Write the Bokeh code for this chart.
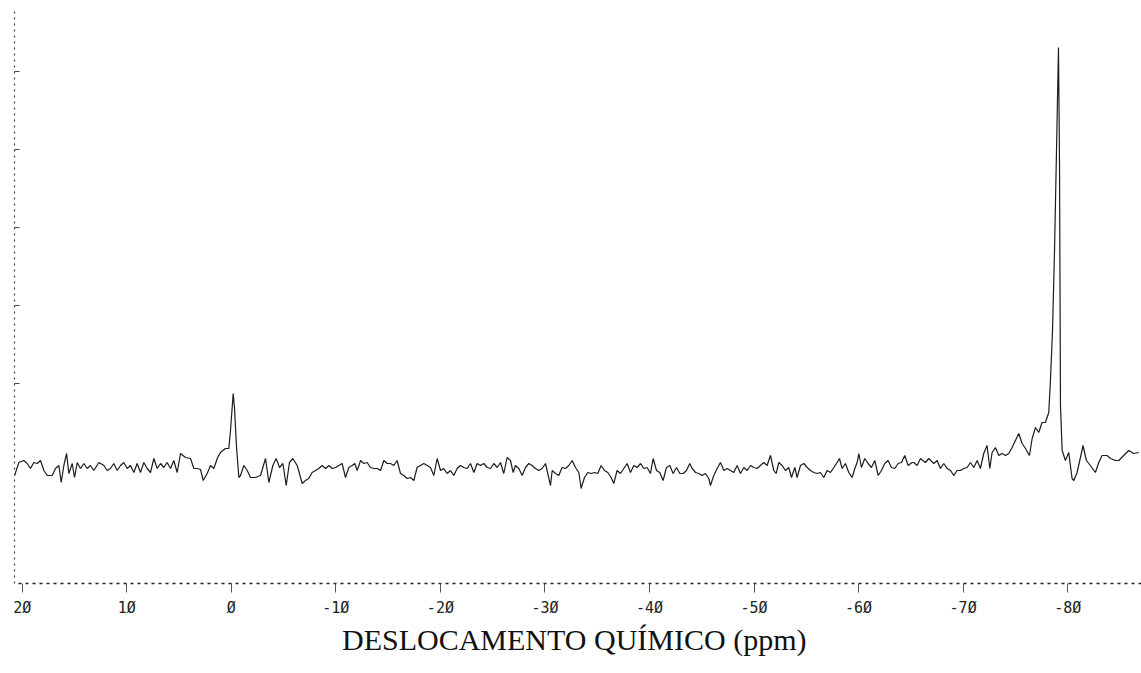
from bokeh.plotting import figure
from bokeh.models import Range1d, FixedTicker
from bokeh.embed import file_html
from bokeh.resources import INLINE

# Chemical shift (ppm) and signal intensity (arbitrary units, baseline = 0)
ppm = [
    20.72, 20.64, 20.32, 19.85, 19.53, 19.21, 18.89, 18.57, 18.25, 17.93, 17.61, 17.14, 16.82, 16.50,
    16.27, 16.02, 15.76, 15.54, 15.22, 15.00, 14.74, 14.43, 14.11, 13.79, 13.47, 13.15, 12.67, 12.19,
    11.87, 11.56, 11.24, 10.92, 10.60, 10.28, 9.96, 9.64, 9.32, 9.01, 8.69, 8.37, 8.05, 7.73, 7.41,
    7.09, 6.77, 6.46, 6.14, 5.82, 5.50, 5.18, 4.86, 4.38, 3.90, 3.59, 3.27, 2.95, 2.69, 2.31, 1.99,
    1.67, 1.35, 1.04, 0.56, 0.24, 0.08, -0.08, -0.18, -0.30, -0.50, -0.72,
    -0.88, -1.20, -1.52, -1.83, -2.31, -2.79, -3.27, -3.59, -3.97, -4.29, -4.61, -4.93, -5.25, -5.56,
    -5.88, -6.30, -6.78, -7.09, -7.41, -7.73, -8.05, -8.37, -8.69, -9.01, -9.33, -9.65, -9.96, -10.28,
    -10.60, -10.92, -11.24, -11.56, -11.81, -12.04, -12.36, -12.67, -12.99, -13.31, -13.63, -13.95,
    -14.27, -14.59, -14.91, -15.22, -15.54, -15.86, -16.18, -16.50, -16.82, -17.14, -17.46, -17.77,
    -18.09, -18.41, -18.73, -19.05, -19.37, -19.69, -20.01, -20.32, -20.64, -20.96, -21.28, -21.60,
    -21.92, -22.24,
    -22.56, -22.88, -23.20, -23.51, -23.83, -24.15, -24.47, -24.79, -25.11, -25.43, -25.75, -26.06,
    -26.38, -26.70, -26.96, -27.18, -27.50, -27.82, -28.14, -28.46, -28.77, -29.09, -29.41, -29.73,
    -30.05, -30.27, -30.53, -30.69, -31.01, -31.32, -31.64, -31.96, -32.28, -32.60, -32.92, -33.24,
    -33.46, -33.78, -34.10, -34.42, -34.74, -35.05, -35.37, -35.69, -36.01, -36.33, -36.58, -36.90,
    -37.22, -37.54, -37.86, -38.18, -38.50, -38.82, -39.14, -39.45, -39.77, -40.09, -40.35, -40.67,
    -40.98, -41.30, -41.62, -41.94, -42.26, -42.58, -42.90, -43.22, -43.54, -43.85,
    -44.08, -44.40, -44.72, -45.03, -45.35, -45.67, -45.83, -46.15, -46.47, -46.79, -47.11, -47.42,
    -47.74, -48.06, -48.38, -48.70, -49.02, -49.34, -49.66, -49.98, -50.29, -50.61, -50.93, -51.25,
    -51.57, -51.89, -52.11, -52.37, -52.69, -53.00, -53.32, -53.58, -53.90, -54.12, -54.44, -54.76,
    -55.08, -55.40, -55.71, -56.03, -56.35, -56.67, -56.99, -57.31, -57.63, -57.95, -58.17, -58.42,
    -58.74, -59.06, -59.38, -59.64, -59.86, -60.02, -60.27, -60.59, -60.91, -61.23, -61.55, -61.87,
    -62.19, -62.50, -62.82, -63.14, -63.46, -63.78, -64.10, -64.42, -64.74, -65.12,
    -65.28, -65.60, -65.92, -66.39, -66.71, -67.19, -67.51, -67.83, -68.15, -68.47, -68.79, -69.10,
    -69.42, -69.74, -70.06, -70.38, -70.70, -71.02, -71.34, -71.65, -71.97, -72.29, -72.55, -72.77,
    -73.09, -73.41, -73.73, -74.05, -74.36, -74.68, -75.00, -75.32, -75.64, -75.96, -76.34, -76.60,
    -76.92, -77.23, -77.55, -77.87, -78.19, -78.35, -78.55, -78.74, -78.93, -79.12, -79.22, -79.31,
    -79.47, -79.78, -80.10, -80.42, -80.58, -80.90, -81.22, -81.47, -81.79, -82.17, -82.65, -82.97,
    -83.29, -83.77, -84.09, -84.57, -84.89, -85.36, -85.84, -86.32, -86.80,
]

intensity = [
    -10, -7, 3, 5, 2, -3, 3, 2, 5, -5, -10, -10, -3, 0,
    -17, 0, 12, -8, 2, -12, 3, -3, 2, -3, 0, -5, 3, 0,
    -5, -3, 2, -5, 0, 3, -3, 0, -7, 2, -7, 3, -3, -7, 7,
    -3, 2, -2, 3, -3, 5, -7, 12, 8, 7, -3, -3, -4, -15, -8, 0,
    -3, 7, 13, 17, 17, 35, 58, 72, 58, 18, -12,
    -10, 0, -5, -12, -12, -10, 7, -17, 0, 7, -2, 2, -20, 3,
    7, 0, -18, -15, -13, -7, -5, -3, 0, -3, 0, -3, -2, 0,
    2, -12, -2, 0, 2, -5, 5, 2, 3, -2, -3, -3,
    -5, 5, 2, 2, 0, 5, -8, -10, -13, -12, -15, -2,
    0, 2, 0, -2, -10, 7, -5, -3, -8, -5, -10, -3,
    0, -2,
    -3, 2, -7, 2, 0, 2, -2, -3, 2, -2, 3, -8,
    8, 5, -7, 0, -3, -10, -2, 2, 0, -3, -5, -3,
    2, -8, -20, -5, -8, -10, -2, -3, 0, 5, -2, -7,
    -23, -12, -7, -8, -7, -8, 0, -5, -7, -12, -18, -5,
    -8, -3, 2, -7, 0, -2, 2, -3, -2, -8, 7, -5,
    -7, -15, -2, 0, -8, -2, -8, -8, -5, 2,
    -3, -7, -8, -10, -8, -13, -20, -10, -3, 3, -5, -3,
    -5, -7, 0, -8, -2, -5, 0, -2, -3, 0, 3, 0,
    10, -5, -8, 3, 0, -5, -2, -12, -2, -12, 0, 2,
    -2, -5, -7, -8, -7, -12, -5, -7, -2, 3, 7, -3,
    2, -7, -12, -3, 3, 12, -2, 7, 2, -2, 5, -10,
    -5, 2, 5, -2, -3, 2, 3, 10, 0, 3,
    3, 0, 7, 3, 7, 2, 5, -3, 2, -3, -5, -10,
    -5, -5, -3, -2, 3, -2, 5, -3, 12, 20, -3, 13,
    18, 10, 12, 10, 12, 18, 25, 32, 22, 17, 10, 27,
    38, 33, 43, 43, 53, 85, 135, 215, 315, 418, 300, 60,
    15, 5, 13, -13, -15, -7, 8, 20, 5, 0, -7, 3,
    10, 10, 7, 5, 5, 10, 15, 12, 13,
]

x_ticks = [20, 10, 0, -10, -20, -30, -40, -50, -60, -70, -80]
x_tick_labels = ["2Ø", "1Ø", "Ø", "-1Ø", "-2Ø", "-3Ø", "-4Ø", "-5Ø", "-6Ø", "-7Ø", "-8Ø"]
y_ticks = [82, 160, 238, 316, 394]

p = figure(
    width=1141, height=673,
    output_backend="svg", toolbar_location=None,
    x_range=Range1d(20.74, -87.06), y_range=Range1d(-118, 457),
    min_border_left=14, min_border_right=0, min_border_top=8, min_border_bottom=90,
    background_fill_color="white", border_fill_color="white",
)

p.line(ppm, intensity, line_color="#1c1c1c", line_width=1.2)

p.grid.visible = False
p.outline_line_color = None

xa = p.xaxis[0]
xa.ticker = FixedTicker(ticks=x_ticks)
xa.major_label_overrides = dict(zip(x_ticks, x_tick_labels))
xa.axis_line_color = "#222222"
xa.axis_line_dash = "3 4"
xa.axis_line_width = 1.5
xa.major_tick_line_color = "#555555"
xa.major_tick_out = 9
xa.major_tick_in = 0
xa.minor_tick_line_color = None
xa.major_label_standoff = 6
xa.major_label_text_font = "DejaVu Sans Mono"
xa.major_label_text_font_size = "15px"
xa.major_label_text_color = "#222222"
xa.axis_label = "DESLOCAMENTO QUÍMICO  (ppm)"
xa.axis_label_text_font = "Liberation Serif"
xa.axis_label_text_font_style = "normal"
xa.axis_label_text_font_size = "30px"
xa.axis_label_text_color = "#111111"
xa.axis_label_standoff = 3

ya = p.yaxis[0]
ya.ticker = FixedTicker(ticks=y_ticks)
ya.major_label_overrides = {t: "" for t in y_ticks}
ya.axis_line_color = "#444444"
ya.axis_line_dash = "2 4"
ya.axis_line_width = 1.2
ya.major_tick_line_color = "#444444"
ya.major_tick_in = 5
ya.major_tick_out = 0
ya.minor_tick_line_color = None
ya.major_label_standoff = 0

open("out.html", "w").write(file_html(p, INLINE))
